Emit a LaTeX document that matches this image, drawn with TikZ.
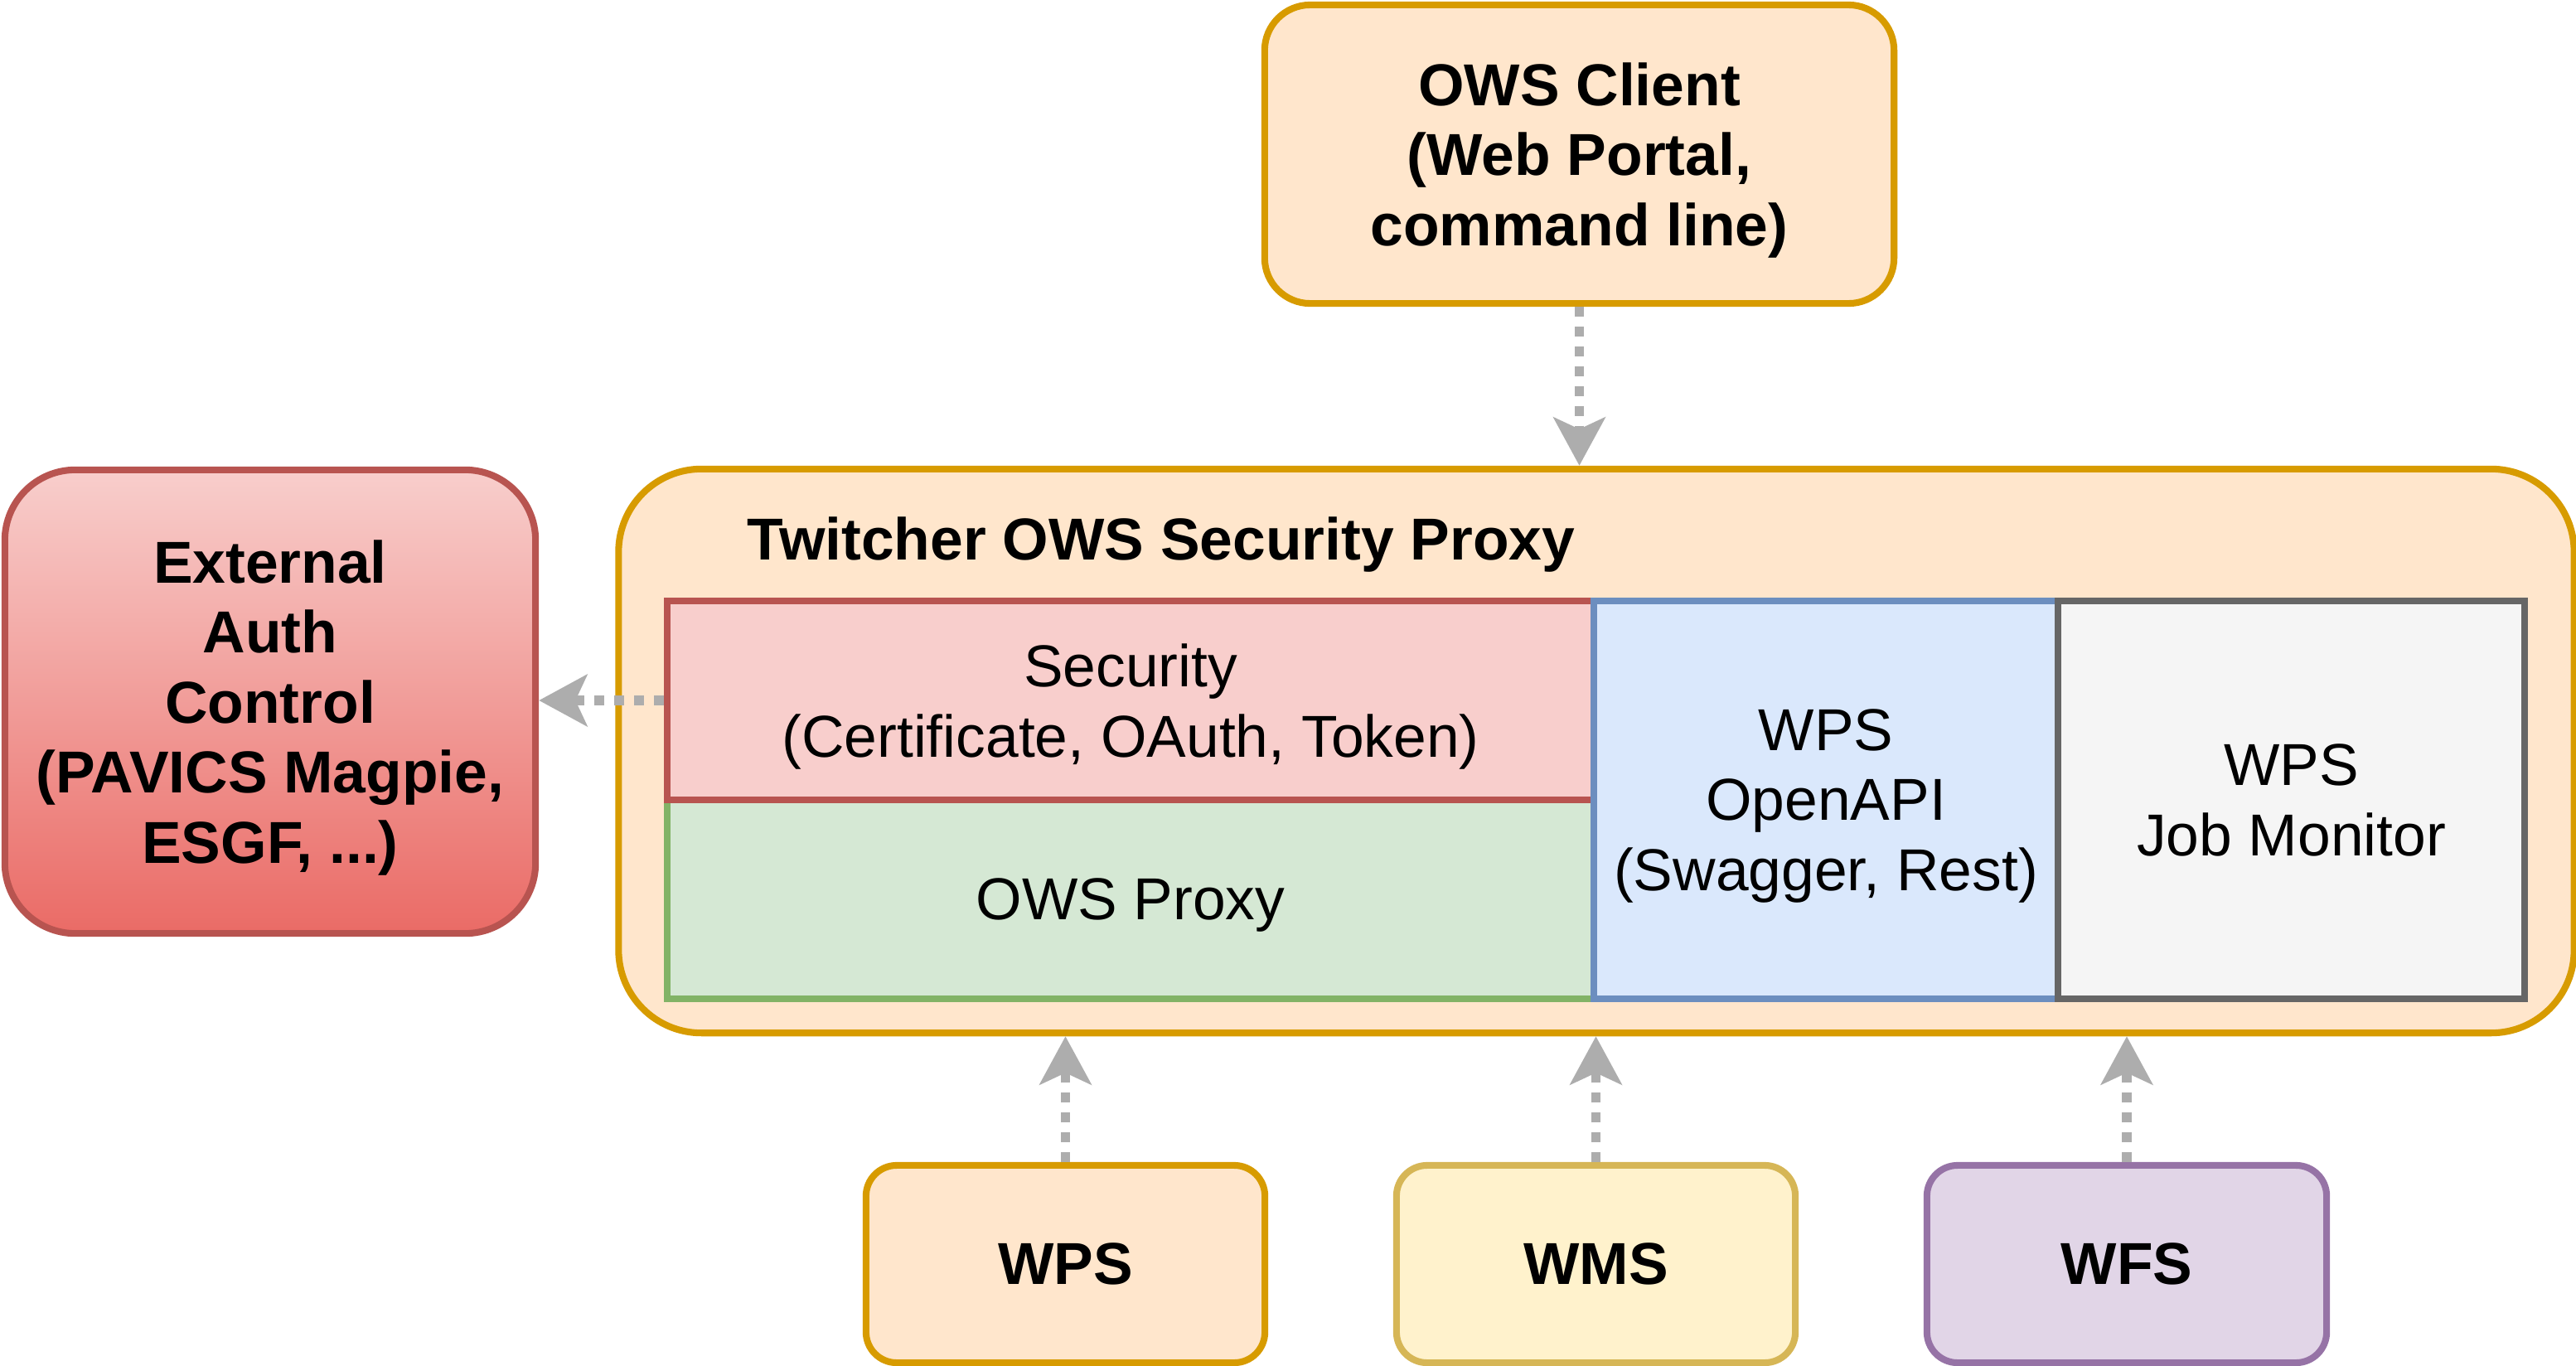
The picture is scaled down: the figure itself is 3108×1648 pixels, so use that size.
\documentclass[tikz,border=0pt]{standalone}
\usepackage{fontspec}
\setmainfont{Liberation Sans}
\usetikzlibrary{arrows.meta}
\definecolor{orangefill}{HTML}{FFE6CC}
\definecolor{orangeline}{HTML}{D79B00}
\definecolor{redfill}{HTML}{F8CECC}
\definecolor{reddeep}{HTML}{EA6B66}
\definecolor{redline}{HTML}{B85450}
\definecolor{greenfill}{HTML}{D5E8D4}
\definecolor{greenline}{HTML}{82B366}
\definecolor{bluefill}{HTML}{DAE8FC}
\definecolor{blueline}{HTML}{6C8EBF}
\definecolor{grayfill}{HTML}{F5F5F5}
\definecolor{grayline}{HTML}{666666}
\definecolor{yellowfill}{HTML}{FFF2CC}
\definecolor{yellowline}{HTML}{D6B656}
\definecolor{purplefill}{HTML}{E1D5E7}
\definecolor{purpleline}{HTML}{9673A6}
\definecolor{linkgray}{HTML}{ADADAD}

\begin{document}
\begin{tikzpicture}[x=0.01cm, y=-0.01cm,
    box/.style={draw, line width=2.3pt, inner sep=0pt, text depth=0pt, align=center, font=\fontsize{20.3}{24}\selectfont},
    boldbox/.style={box, font=\fontsize{20.3}{24}\selectfont\bfseries},
    link/.style={draw=linkgray, line width=3.4pt, dash pattern=on 3.4pt off 3.4pt,
        -{Stealth[length=5.8mm, width=6.2mm, inset=1.4mm]}}]
    \useasboundingbox (0, 0) rectangle (3108, 1648);
    \node[boldbox, fill=orangefill, draw=orangeline, rounded corners=0.55cm, minimum width=7.59cm, minimum height=3.6cm] (client) at (1905.5, 186) {OWS Client\\(Web Portal,\\command line)};
    \node[box, fill=orangefill, draw=orangeline, rounded corners=1cm, minimum width=23.58cm, minimum height=6.8cm] (twitcher) at (1926, 906) {};
    \node[anchor=west, inner sep=0pt, text depth=0pt, font=\fontsize{20.3}{24}\selectfont\bfseries] (title) at (901, 650) {Twitcher OWS Security Proxy};
    \node[boldbox, top color=redfill, bottom color=reddeep, draw=redline, rounded corners=0.85cm, minimum width=6.4cm, minimum height=5.59cm] (auth) at (326, 846.5) {External\\Auth\\Control\\(PAVICS Magpie,\\ESGF, ...)};
    \node[box, fill=greenfill, draw=greenline, minimum width=11.18cm, minimum height=2.4cm] (owsproxy) at (1364, 1085) {OWS Proxy};
    \node[box, fill=redfill, draw=redline, minimum width=11.18cm, minimum height=2.4cm] (security) at (1364, 845) {Security\\(Certificate, OAuth, Token)};
    \node[box, fill=bluefill, draw=blueline, minimum width=5.6cm, minimum height=4.8cm] (openapi) at (2203, 965) {WPS\\OpenAPI\\(Swagger, Rest)};
    \node[box, fill=grayfill, draw=grayline, minimum width=5.63cm, minimum height=4.8cm] (jobmon) at (2764.5, 965) {WPS\\Job Monitor};
    \node[boldbox, fill=orangefill, draw=orangeline, rounded corners=0.37cm, minimum width=4.81cm, minimum height=2.38cm] (wps) at (1285.5, 1525) {WPS};
    \node[boldbox, fill=yellowfill, draw=yellowline, rounded corners=0.37cm, minimum width=4.81cm, minimum height=2.38cm] (wms) at (1925.5, 1525) {WMS};
    \node[boldbox, fill=purplefill, draw=purpleline, rounded corners=0.37cm, minimum width=4.82cm, minimum height=2.38cm] (wfs) at (2566, 1525) {WFS};
    \draw[link] (client.south) -- (client.south |- twitcher.north);
    \draw[link] (security.west) -- (security.west -| auth.east);
    \draw[link] (wps.north) -- (wps.north |- twitcher.south);
    \draw[link] (wms.north) -- (wms.north |- twitcher.south);
    \draw[link] (wfs.north) -- (wfs.north |- twitcher.south);
\end{tikzpicture}
\end{document}
